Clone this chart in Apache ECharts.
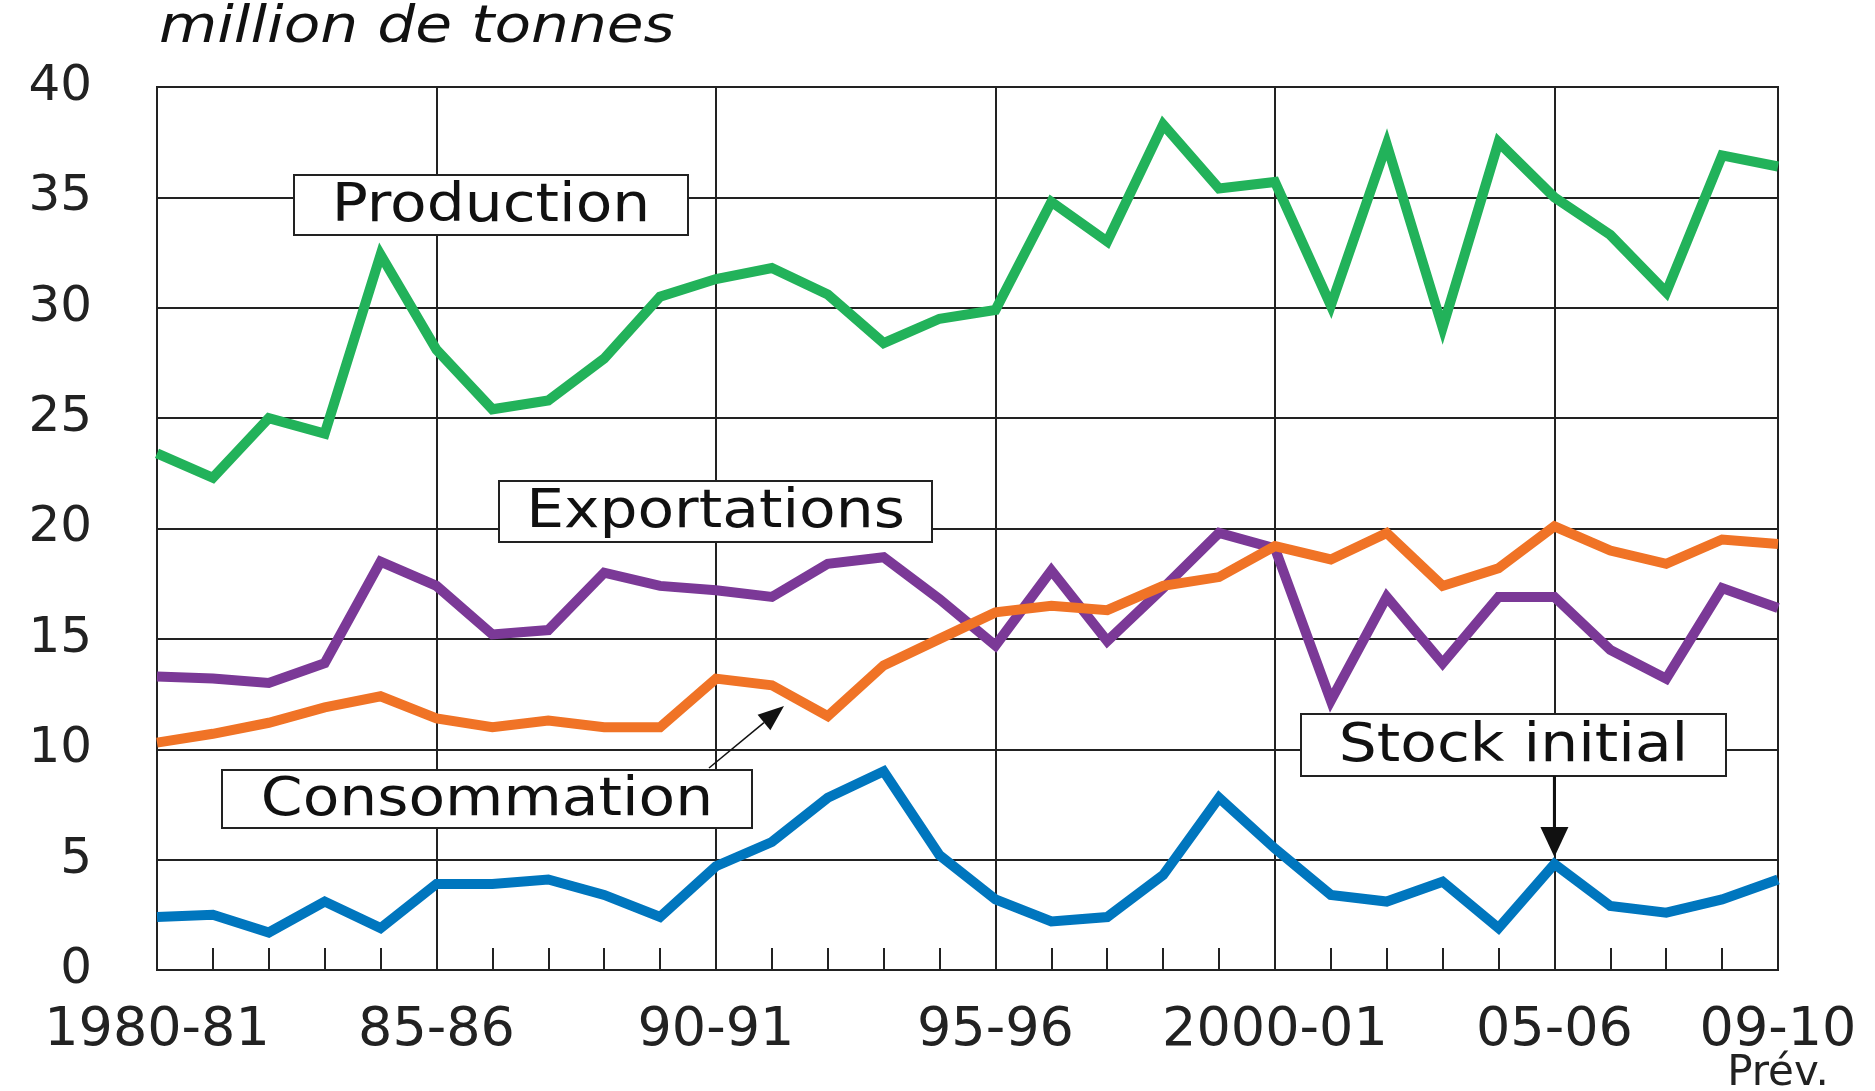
<!DOCTYPE html>
<html>
<head>
<meta charset="utf-8">
<script src="https://cdn.jsdelivr.net/npm/echarts@6/dist/echarts.min.js"></script>
<style>
  html, body { margin: 0; padding: 0; background: #fff; }
  #main { width: 1875px; height: 1091px; }
</style>
</head>
<body>
<div id="main"></div>
<script type="text/javascript">
  // campagnes 1980-81 .. 2009-10
  var years = ['1980-81', '81-82', '82-83', '83-84', '84-85', '85-86', '86-87', '87-88', '88-89', '89-90',
    '90-91', '91-92', '92-93', '93-94', '94-95', '95-96', '96-97', '97-98', '98-99', '99-2000',
    '2000-01', '01-02', '02-03', '03-04', '04-05', '05-06', '06-07', '07-08', '08-09', '09-10'];
  var production = [23.4, 22.3, 25.0, 24.3, 32.4, 28.1, 25.4, 25.8, 27.7, 30.5,
    31.3, 31.8, 30.6, 28.4, 29.5, 29.9, 34.8, 33.0, 38.3, 35.4,
    35.7, 30.1, 37.4, 29.1, 37.5, 35.0, 33.3, 30.7, 36.9, 36.4];
  var exportations = [13.3, 13.2, 13.0, 13.9, 18.5, 17.4, 15.2, 15.4, 18.0, 17.4,
    17.2, 16.9, 18.4, 18.7, 16.8, 14.7, 18.1, 14.9, 17.3, 19.8,
    19.1, 12.2, 16.9, 13.9, 16.9, 16.9, 14.5, 13.2, 17.3, 16.4];
  var consommation = [10.3, 10.7, 11.2, 11.9, 12.4, 11.4, 11.0, 11.3, 11.0, 11.0,
    13.2, 12.9, 11.5, 13.8, 15.0, 16.2, 16.5, 16.3, 17.4, 17.8,
    19.2, 18.6, 19.8, 17.4, 18.2, 20.1, 19.0, 18.4, 19.5, 19.3];
  var stockInitial = [2.4, 2.5, 1.7, 3.1, 1.9, 3.9, 3.9, 4.1, 3.4, 2.4,
    4.7, 5.8, 7.8, 9.0, 5.2, 3.2, 2.2, 2.4, 4.3, 7.8,
    5.5, 3.4, 3.1, 4.0, 1.9, 4.8, 2.9, 2.6, 3.2, 4.1];
  var lastLabel = 'Prév.';

  var ink = '#222';
  var font = 'DejaVu Sans';

  function line(name, data, color) {
    return {
      name: name,
      type: 'line',
      data: data,
      symbol: 'none',
      lineStyle: { color: color, width: 10, join: 'miter' },
      silent: true
    };
  }

  var option = {
    backgroundColor: '#fff',
    animation: false,
    grid: {
      left: 157, right: 97, top: 87, bottom: 121,
      outerBoundsMode: 'none',
      show: true, borderColor: ink, borderWidth: 2
    },
    xAxis: {
      type: 'category',
      data: years,
      boundaryGap: false,
      axisLine: { lineStyle: { color: ink, width: 2 } },
      axisTick: { inside: true, length: 22, interval: 0, lineStyle: { color: ink, width: 2 } },
      splitLine: {
        show: true,
        interval: function (i) { return i % 5 === 0; },
        lineStyle: { color: ink, width: 2 }
      },
      axisLabel: {
        interval: function (i) { return i % 5 === 0 || i === years.length - 1; },
        margin: 34,
        fontFamily: font,
        fontSize: 54,
        lineHeight: 54,
        color: ink,
        formatter: function (v, i) {
          return i === years.length - 1 ? '{a|' + v + '}\n{p|' + lastLabel + '}' : v;
        },
        rich: {
          a: { fontFamily: font, fontSize: 54, color: ink, lineHeight: 54 },
          p: { fontFamily: font, fontSize: 42, color: ink, lineHeight: 32 }
        }
      }
    },
    yAxis: {
      type: 'value',
      min: 0, max: 40, interval: 5,
      axisLine: { show: true, lineStyle: { color: ink, width: 2 } },
      axisTick: { show: false },
      splitLine: { lineStyle: { color: ink, width: 2 } },
      axisLabel: { margin: 65, fontFamily: font, fontSize: 50, color: ink }
    },
    series: [
      line('Exportations', exportations, '#7B3997'),
      line('Consommation', consommation, '#F07326'),
      line('Production', production, '#22B25A'),
      line('Stock initial', stockInitial, '#0076BE')
    ]
  };

  var myChart = echarts.init(document.getElementById('main'));
  myChart.setOption(option);

  // étiquettes encadrées
  function box(text, x1, y1, x2, y2) {
    return [
      { type: 'rect', shape: { x: x1, y: y1, width: x2 - x1, height: y2 - y1 },
        style: { fill: '#fff', stroke: ink, lineWidth: 2 }, z: 100 },
      { type: 'text', x: (x1 + x2) / 2, y: (y1 + y2) / 2 + 2, scaleX: 1.13,
        style: { text: text, fontFamily: font, fontSize: 53, fill: '#111',
          textAlign: 'center', textVerticalAlign: 'middle' }, z: 101 }
    ];
  }

  function arrow(x1, y1, x2, y2, w, headLen, headW) {
    var dx = x2 - x1, dy = y2 - y1, len = Math.sqrt(dx * dx + dy * dy);
    var ux = dx / len, uy = dy / len;
    var bx = x2 - ux * headLen, by = y2 - uy * headLen;
    var px = -uy * headW / 2, py = ux * headW / 2;
    return [
      { type: 'line', shape: { x1: x1, y1: y1, x2: bx, y2: by },
        style: { stroke: '#111', lineWidth: w }, z: 102 },
      { type: 'polygon', shape: { points: [[x2, y2], [bx + px, by + py], [bx - px, by - py]] },
        style: { fill: '#111' }, z: 102 }
    ];
  }

  var tip = myChart.convertToPixel({ gridIndex: 0 }, [25, stockInitial[25]]);

  var elements = [
    { type: 'text', x: 159, y: 28, scaleX: 1.15,
      style: { text: 'million de tonnes', fontFamily: font, fontStyle: 'italic', fontSize: 52,
        fill: '#111', textAlign: 'left', textVerticalAlign: 'middle' } }
  ];
  elements = elements
    .concat(box('Production', 294, 175, 688, 235))
    .concat(box('Exportations', 499, 481, 932, 542))
    .concat(box('Consommation', 222, 770, 752, 828))
    .concat(box('Stock initial', 1301, 714, 1726, 776))
    .concat(arrow(709, 768, 784, 706, 1.5, 26, 20))
    .concat(arrow(tip[0], 776, tip[0], tip[1] - 7, 3, 30, 28));

  myChart.setOption({ graphic: { elements: elements } });
</script>
</body>
</html>
